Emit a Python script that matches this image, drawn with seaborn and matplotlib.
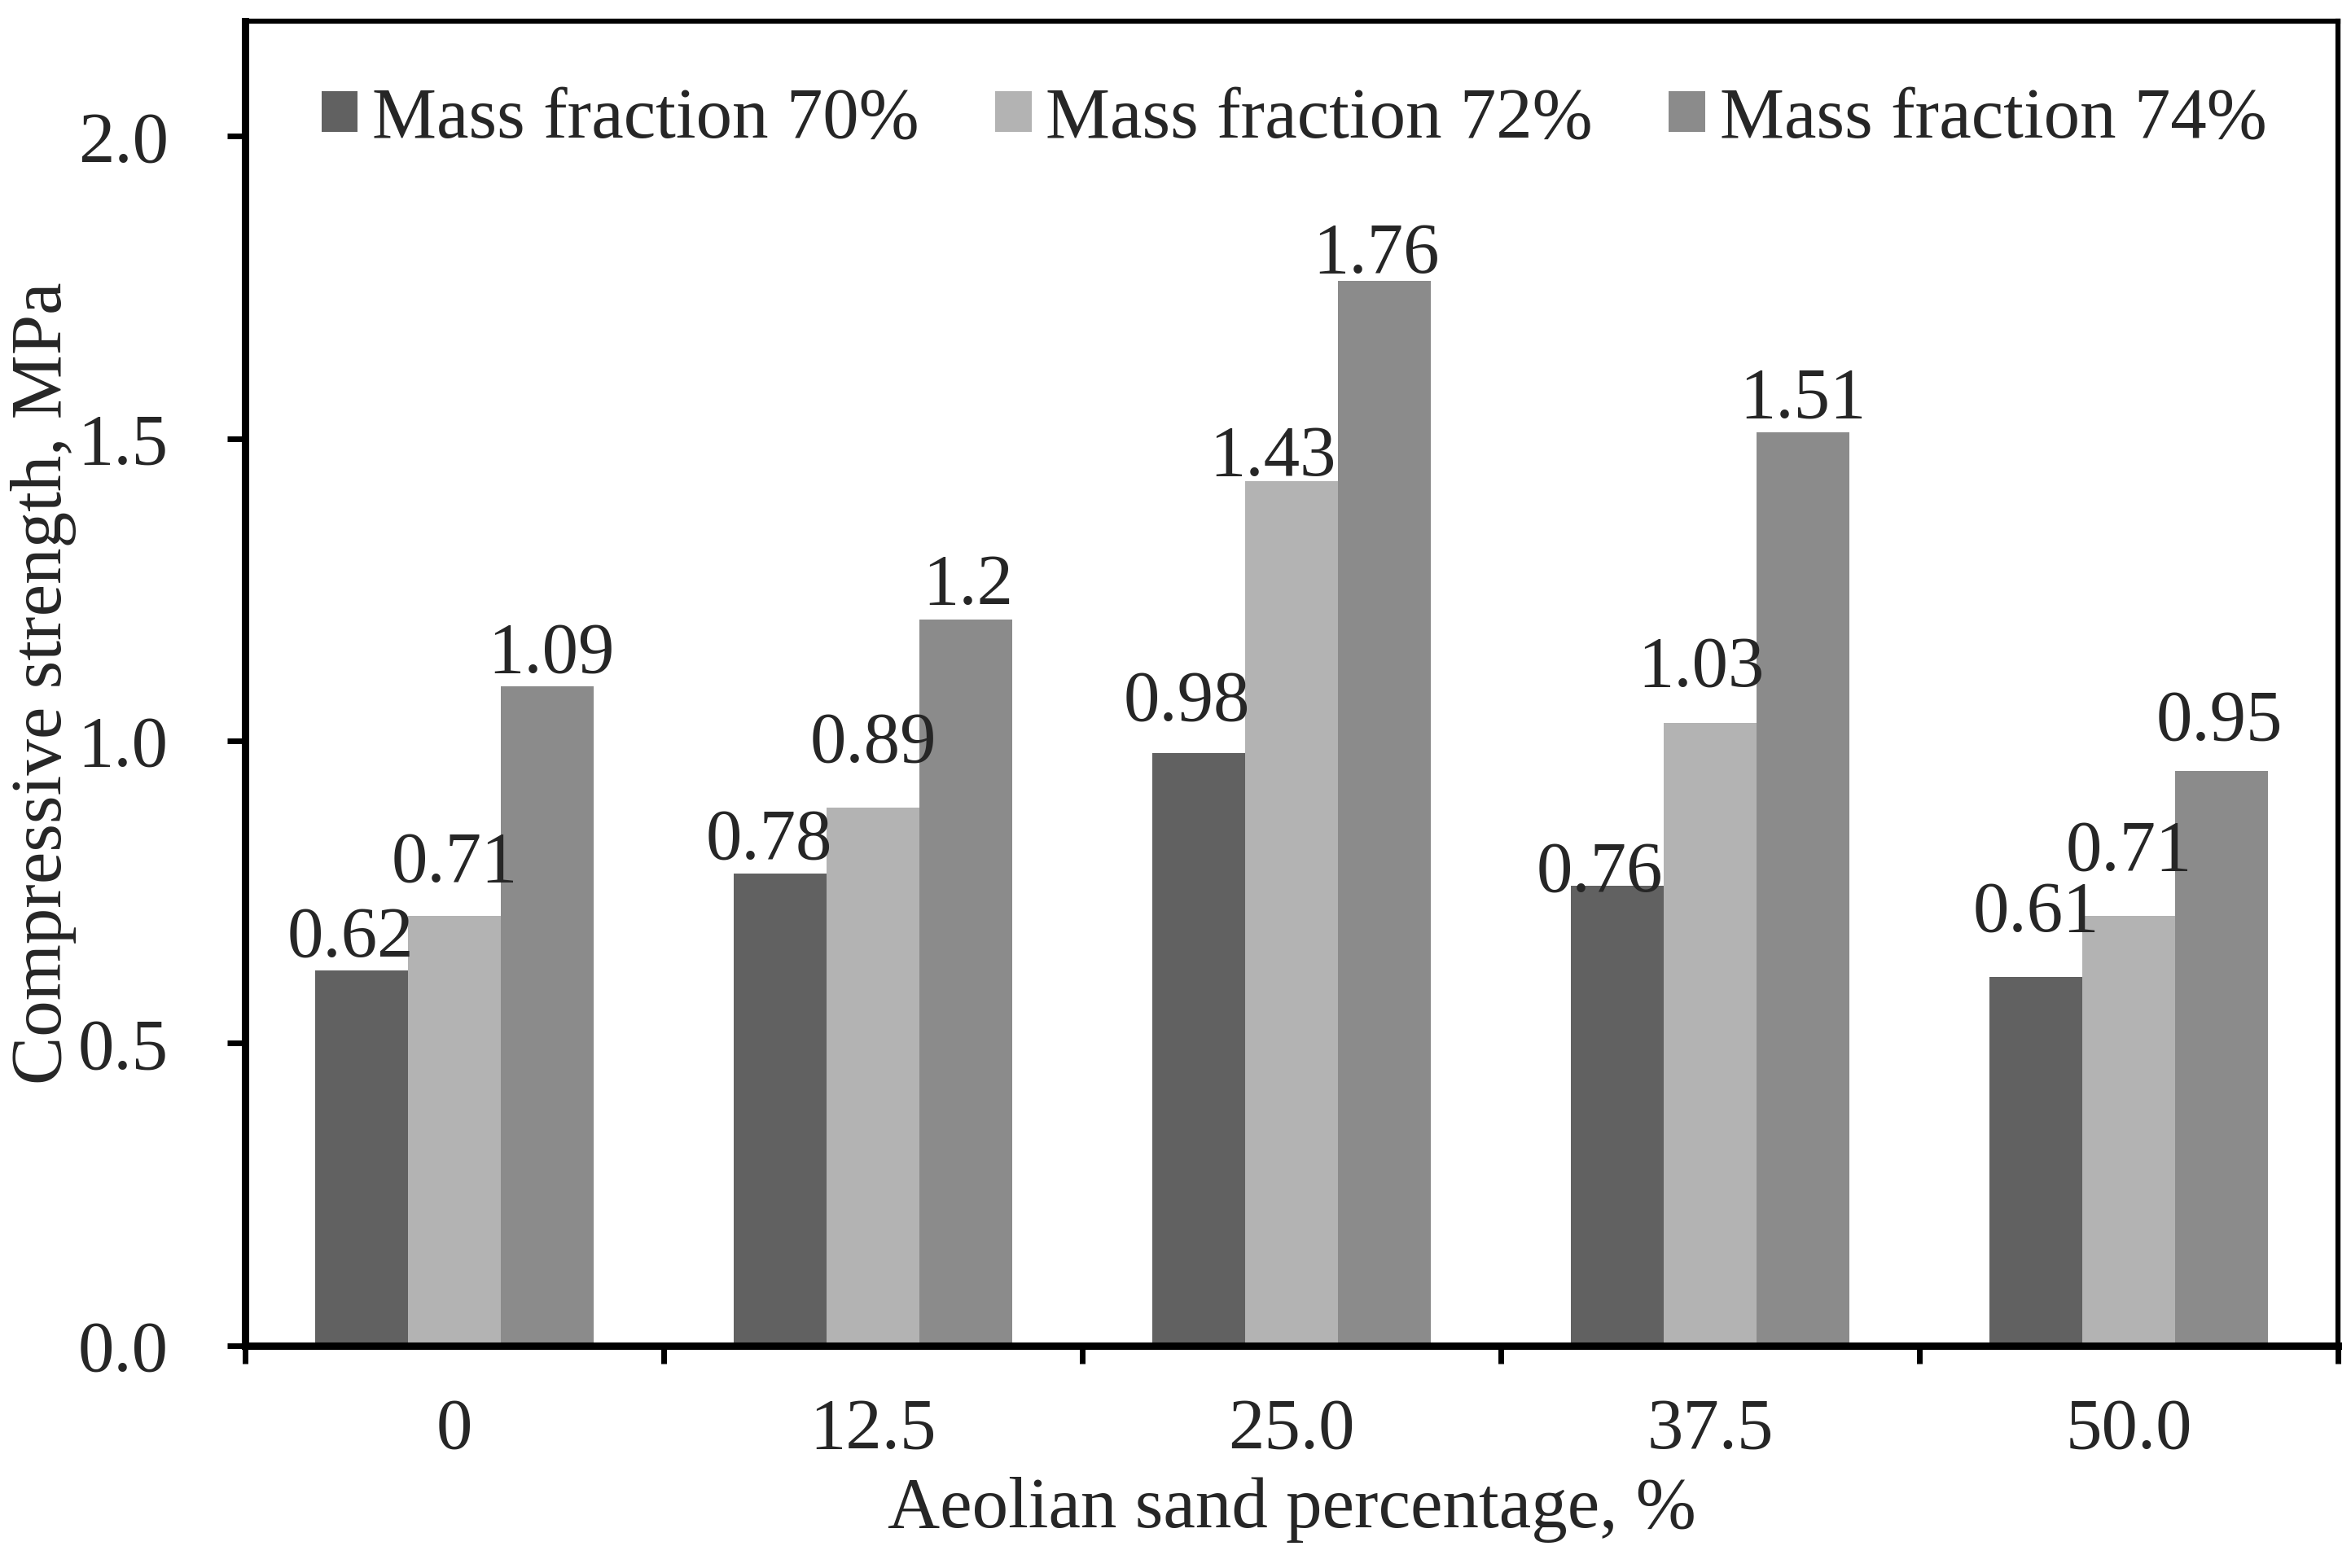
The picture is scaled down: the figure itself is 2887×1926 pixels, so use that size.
import matplotlib
matplotlib.use('Agg')
import matplotlib.pyplot as plt
import pandas as pd
import seaborn as sns

# 数据
sand_pct = ['0', '12.5', '25.0', '37.5', '50.0']
series_names = ['Mass fraction 70%', 'Mass fraction 72%', 'Mass fraction 74%']
mf70 = [0.62, 0.78, 0.98, 0.76, 0.61]
mf72 = [0.71, 0.89, 1.43, 1.03, 0.71]
mf74 = [1.09, 1.20, 1.76, 1.51, 0.95]
colors = ['#616161', '#b3b3b3', '#8b8b8b']

# 数据标签的偏移(像素): 基线距柱顶的距离, 以及水平偏移
label_dy = [[18, 19, 40, -6, 56],
            [43, 56, 7, 45, 57],
            [18, 19, 10, 19, 39]]
label_dx = [[-14, -14, -15, -22, 0],
            [0, 0, -23, -11, 0],
            [5, 3, -10, 0, -3]]

rows = []
for name, vals in zip(series_names, [mf70, mf72, mf74]):
    for pct, v in zip(sand_pct, vals):
        rows.append({'sand': pct, 'strength': v, 'series': name})
df = pd.DataFrame(rows)

sns.set_theme(style='white')
plt.rcParams['font.family'] = ['Liberation Serif', 'DejaVu Serif']
plt.rcParams['font.size'] = 64

dpi = 100
px = 72 / dpi  # 像素 -> 点

fig = plt.figure(figsize=(28.87, 19.26), dpi=dpi)
ax = fig.add_axes([0.1043, 0.1418, 0.8902, 0.8447])

sns.barplot(data=df, x='sand', y='strength', hue='series', order=sand_pct,
            hue_order=series_names, palette=colors, width=0.664,
            saturation=1, linewidth=0, ax=ax)

# 数据标签
for s, cont in enumerate(ax.containers):
    for i, bar in enumerate(cont):
        h = bar.get_height()
        xc = bar.get_x() + bar.get_width() / 2
        ax.annotate(f'{h:g}', (xc, h),
                    xytext=(label_dx[s][i] * px, label_dy[s][i] * px),
                    textcoords='offset points', ha='center', va='baseline',
                    fontsize=64, zorder=5)

ax.set_xlim(-0.5, 4.5)
ax.set_ylim(0, 2.19)
ax.set_yticks([0, 0.5, 1.0, 1.5, 2.0])
ax.set_yticklabels(['0.0', '0.5', '1.0', '1.5', '2.0'])
ax.set_xticks(range(len(sand_pct)))
ax.set_xticklabels(sand_pct)
ax.set_xticks([i - 0.5 for i in range(len(sand_pct) + 1)], minor=True)

ax.tick_params(axis='x', which='major', length=0, pad=46, labelsize=64)
ax.tick_params(axis='x', which='minor', length=16, width=5, direction='out',
               bottom=True, color='black')
ax.tick_params(axis='y', which='major', length=16, width=5, direction='out',
               left=True, pad=52, labelsize=64, color='black')

for side in ['left', 'bottom']:
    ax.spines[side].set_linewidth(6.5)
    ax.spines[side].set_color('black')
for side in ['top', 'right']:
    ax.spines[side].set_linewidth(4.5)
    ax.spines[side].set_color('black')

ax.set_xlabel('Aeolian sand percentage, %', fontsize=64, labelpad=12)
ax.set_ylabel('Compressive strength, MPa', fontsize=64, labelpad=1)

handles, labels = ax.get_legend_handles_labels()
ax.legend(handles, labels, ncol=3, frameon=False, loc='center left',
          bbox_to_anchor=(395 / 2887, 1 - 147 / 1926),
          bbox_transform=fig.transFigure, borderpad=0, borderaxespad=0,
          handlelength=0.5, handleheight=0.5, handletextpad=0.2,
          columnspacing=1.05, fontsize=64)

fig.savefig('out.png', dpi=dpi)
